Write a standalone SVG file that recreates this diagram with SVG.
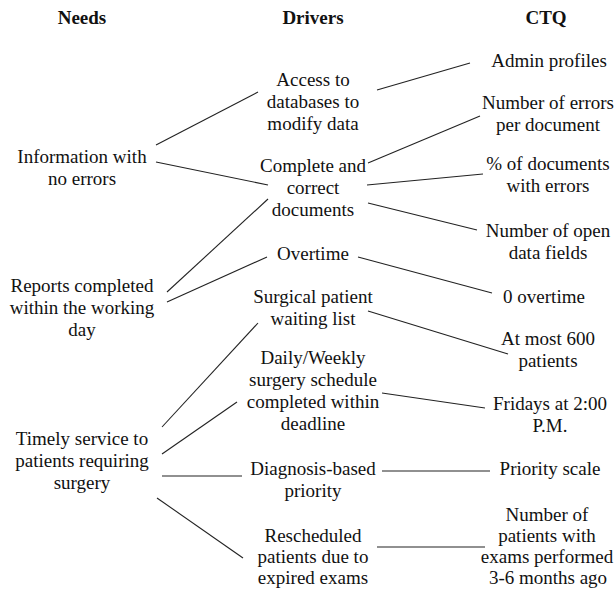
<svg xmlns="http://www.w3.org/2000/svg" width="616" height="590" viewBox="0 0 616 590">
<style>
text{font-family:"Liberation Serif","Times New Roman",serif;font-size:19px;fill:#111;text-anchor:middle}
.h{font-weight:bold;font-size:19px}
#connectors line{stroke:#222;stroke-width:1.1}
</style>
<rect width="616" height="590" fill="#fff"/>
<g id="headers">
<text class="h" x="82" y="24">Needs</text>
<text class="h" x="313" y="24">Drivers</text>
<text class="h" x="546" y="24">CTQ</text>
</g>
<g id="connectors">
<line x1="156" y1="145" x2="258" y2="92"/>
<line x1="377" y1="90" x2="470" y2="63"/>
<line x1="156" y1="162" x2="268" y2="185"/>
<line x1="368" y1="163" x2="480" y2="116"/>
<line x1="367" y1="185" x2="483" y2="174"/>
<line x1="368" y1="203" x2="477" y2="230"/>
<line x1="167" y1="292" x2="268" y2="199"/>
<line x1="167" y1="302" x2="267" y2="257"/>
<line x1="358" y1="257" x2="492" y2="293"/>
<line x1="368" y1="311" x2="508" y2="354"/>
<line x1="162" y1="427" x2="258" y2="323"/>
<line x1="162" y1="454" x2="237" y2="402"/>
<line x1="382" y1="393" x2="485" y2="408"/>
<line x1="162" y1="476" x2="242" y2="476"/>
<line x1="382" y1="471" x2="490" y2="471"/>
<line x1="157" y1="498" x2="243" y2="558"/>
<line x1="377" y1="547" x2="485" y2="547"/>
</g>
<g id="need-info"><text x="82" y="163">Information with</text><text x="82" y="185">no errors</text></g>
<g id="need-reports"><text x="82" y="292">Reports completed</text><text x="82" y="314">within the working</text><text x="82" y="336">day</text></g>
<g id="need-timely"><text x="82" y="445">Timely service to</text><text x="82" y="467">patients requiring</text><text x="82" y="489">surgery</text></g>
<g id="drv-access"><text x="313" y="86">Access to</text><text x="313" y="108">databases to</text><text x="313" y="130">modify data</text></g>
<g id="drv-complete"><text x="313" y="172">Complete and</text><text x="313" y="194">correct</text><text x="313" y="216">documents</text></g>
<g id="drv-overtime"><text x="313" y="260">Overtime</text></g>
<g id="drv-surgical"><text x="313" y="303">Surgical patient</text><text x="313" y="325">waiting list</text></g>
<g id="drv-daily"><text x="313" y="364">Daily/Weekly</text><text x="313" y="386">surgery schedule</text><text x="313" y="408">completed within</text><text x="313" y="430">deadline</text></g>
<g id="drv-diagnosis"><text x="313" y="475">Diagnosis-based</text><text x="313" y="497">priority</text></g>
<g id="drv-rescheduled"><text x="313" y="542">Rescheduled</text><text x="313" y="563">patients due to</text><text x="313" y="584">expired exams</text></g>
<g id="ctq-admin"><text x="549" y="67">Admin profiles</text></g>
<g id="ctq-errors"><text x="548" y="109">Number of errors</text><text x="548" y="131">per document</text></g>
<g id="ctq-percent"><text x="548" y="170">% of documents</text><text x="548" y="192">with errors</text></g>
<g id="ctq-open"><text x="548" y="237">Number of open</text><text x="548" y="259">data fields</text></g>
<g id="ctq-overtime"><text x="544" y="303">0 overtime</text></g>
<g id="ctq-most"><text x="548" y="345">At most 600</text><text x="548" y="367">patients</text></g>
<g id="ctq-fridays"><text x="550" y="410">Fridays at 2:00</text><text x="550" y="432">P.M.</text></g>
<g id="ctq-priority"><text x="550" y="475">Priority scale</text></g>
<g id="ctq-exams"><text x="547" y="521">Number of</text><text x="547" y="542">patients with</text><text x="547" y="563">exams performed</text><text x="548" y="584">3-6 months ago</text></g>
</svg>
